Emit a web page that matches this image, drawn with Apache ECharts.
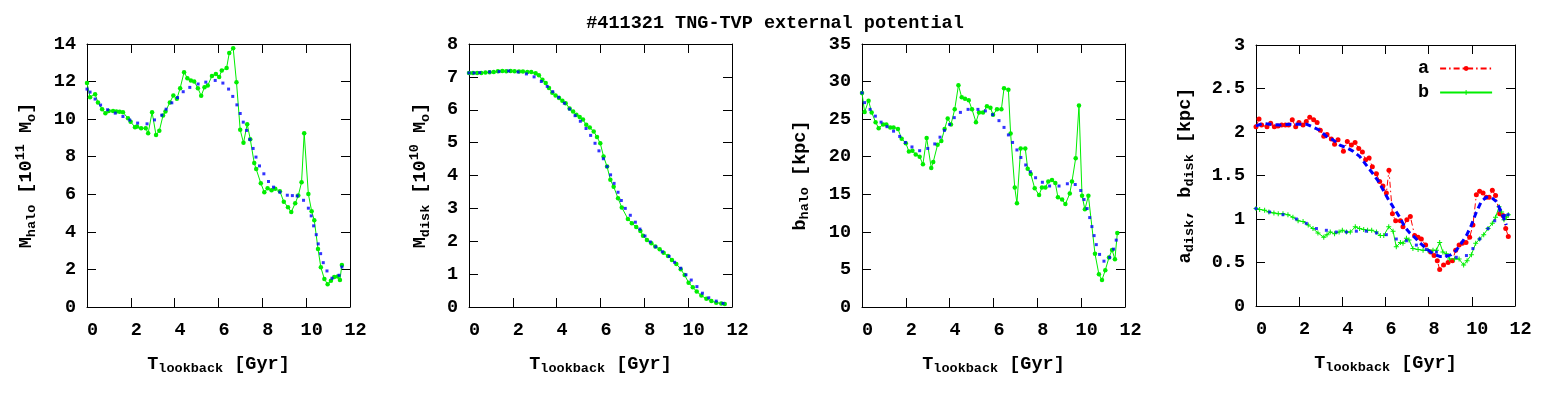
<!DOCTYPE html>
<html><head><meta charset="utf-8">
<script src="https://cdn.jsdelivr.net/npm/echarts@6/dist/echarts.min.js"></script>
<style>html,body{margin:0;padding:0;background:#fff}#c{width:1550px;height:400px}</style>
</head><body><div id="c"></div>
<script>
// ---- Panel 1: M_halo ----
const haloT = [0,0.14,0.37,0.5,0.69,0.84,0.99,1.19,1.34,1.49,1.64,1.87,1.99,2.19,2.28,2.47,2.68,2.79,2.97,3.15,3.3,3.47,3.58,3.78,3.94,4.1,4.25,4.43,4.58,4.74,4.89,5.06,5.21,5.36,5.51,5.7,5.88,6.03,6.15,6.37,6.49,6.67,6.82,6.99,7.14,7.31,7.45,7.63,7.72,7.93,8.09,8.24,8.42,8.59,8.8,8.98,9.17,9.32,9.5,9.64,9.79,9.91,10.1,10.25,10.37,10.54,10.67,10.83,10.98,11.13,11.28,11.44,11.54,11.63];
const haloM = [11.92,11.17,11.33,10.89,10.53,10.32,10.44,10.44,10.41,10.39,10.37,10.05,9.86,9.57,9.61,9.52,9.52,9.25,10.37,9.15,9.38,10.2,10.41,10.89,11.26,11.08,11.65,12.5,12.18,12.06,12.0,11.65,11.24,11.7,11.79,12.3,12.4,12.24,12.59,12.72,13.52,13.78,11.97,9.43,8.74,9.73,8.93,7.66,7.34,6.59,6.11,6.32,6.22,6.29,6.16,5.6,5.31,5.06,5.52,5.93,6.64,9.25,6.02,5.1,4.62,3.09,2.11,1.49,1.21,1.4,1.6,1.62,1.44,2.24];
const haloFitT = [0,0.14,0.37,0.62,0.94,1.29,1.64,1.95,2.31,2.74,3.08,3.41,3.61,3.87,4.13,4.39,4.69,5.07,5.42,5.85,6.2,6.46,6.65,6.84,6.99,7.13,7.28,7.43,7.58,7.71,7.87,8.07,8.28,8.51,8.8,9.14,9.37,9.59,9.88,10.1,10.23,10.34,10.46,10.55,10.66,10.78,10.95,11.18,11.5,11.63];
const haloFitM = [11.6,11.44,11.07,10.75,10.5,10.32,10.14,9.95,9.79,9.75,9.96,10.21,10.53,10.87,11.15,11.46,11.69,11.87,11.97,12.06,11.92,11.6,11.21,10.76,10.3,9.84,9.4,8.92,8.44,7.98,7.51,7.09,6.68,6.38,6.11,5.95,5.93,5.91,5.68,5.26,4.85,4.32,3.85,3.36,2.84,2.36,1.92,1.53,1.69,2.13];

// ---- Panel 2: M_disk ----
const diskT = [0,0.18,0.37,0.56,0.75,0.94,1.13,1.32,1.52,1.7,1.9,2.08,2.28,2.46,2.66,2.84,3.04,3.19,3.35,3.5,3.65,3.8,3.95,4.11,4.26,4.41,4.59,4.75,4.9,5.05,5.2,5.35,5.51,5.69,5.84,5.99,6.14,6.3,6.45,6.6,6.8,6.97,7.25,7.43,7.63,7.82,7.94,8.12,8.32,8.5,8.7,8.88,9.08,9.26,9.46,9.66,9.84,10.02,10.21,10.39,10.6,10.83,11.06,11.28,11.51,11.67];
const diskM = [7.12,7.12,7.12,7.12,7.13,7.14,7.15,7.17,7.18,7.17,7.18,7.17,7.16,7.16,7.15,7.15,7.11,7.05,6.91,6.81,6.66,6.52,6.43,6.36,6.27,6.2,6.04,5.95,5.85,5.78,5.7,5.54,5.46,5.34,5.17,4.98,4.58,4.27,3.87,3.66,3.31,3.03,2.68,2.55,2.43,2.31,2.17,2.04,1.94,1.84,1.76,1.65,1.55,1.43,1.31,1.15,0.97,0.74,0.6,0.47,0.35,0.25,0.18,0.13,0.11,0.09];
const diskFitT = [0,0.23,0.49,0.94,1.37,1.81,2.24,2.62,2.97,3.3,3.57,3.82,4.09,4.35,4.59,4.84,5.08,5.34,5.55,5.75,5.93,6.13,6.3,6.46,6.62,6.8,6.95,7.13,7.36,7.59,7.8,8.03,8.27,8.52,8.82,9.13,9.38,9.66,9.9,10.14,10.4,10.65,10.94,11.28,11.59];
const diskFitM = [7.12,7.12,7.13,7.15,7.16,7.18,7.15,7.09,7.0,6.86,6.71,6.55,6.38,6.2,6.02,5.82,5.65,5.43,5.22,4.98,4.75,4.51,4.27,4.02,3.76,3.49,3.24,3.0,2.79,2.58,2.37,2.16,1.98,1.83,1.68,1.54,1.36,1.18,0.98,0.82,0.62,0.42,0.28,0.18,0.11];

// ---- Panel 3: b_halo ----
const bhaloT = [0,0.12,0.3,0.44,0.62,0.76,0.96,1.11,1.29,1.44,1.64,1.81,2.0,2.14,2.3,2.45,2.63,2.78,2.95,3.16,3.25,3.45,3.62,3.77,3.91,4.06,4.23,4.4,4.55,4.7,4.87,5.02,5.2,5.34,5.52,5.7,5.86,5.98,6.16,6.36,6.48,6.68,6.78,6.97,7.07,7.24,7.45,7.56,7.7,7.88,8.08,8.21,8.37,8.5,8.67,8.82,8.94,9.13,9.28,9.48,9.58,9.75,9.9,10.04,10.17,10.33,10.63,10.81,10.95,11.1,11.27,11.41,11.54,11.65];
const bhaloV = [28.48,25.94,27.45,25.9,24.6,23.8,24.3,24.3,23.9,23.9,23.7,22.4,21.8,20.7,20.8,20.3,20.0,19.0,22.5,18.5,19.3,21.6,22.1,23.7,25.1,24.3,26.3,29.5,27.9,27.7,27.5,26.3,24.6,25.9,25.9,26.7,26.5,25.6,26.3,26.3,29.1,28.9,23.1,15.9,13.8,21.1,21.1,18.4,17.7,15.8,14.9,15.9,15.9,16.7,16.9,16.5,14.6,14.3,13.7,15.1,16.7,19.8,26.8,14.8,13.0,14.8,7.1,4.35,3.6,4.9,6.6,7.6,6.35,9.86];
const bhaloFitT = [0,0.12,0.37,0.61,0.87,1.14,1.44,1.72,1.98,2.28,2.63,3.0,3.32,3.56,3.76,4.0,4.21,4.49,4.84,5.29,5.63,5.96,6.25,6.48,6.68,6.87,7.07,7.25,7.47,7.68,7.92,8.23,8.56,8.99,9.37,9.73,9.98,10.13,10.27,10.39,10.49,10.59,10.69,10.84,11.04,11.3,11.48,11.6];
const bhaloFitV = [28.5,27.2,26.3,25.4,24.6,24.0,23.4,22.7,21.9,21.3,20.8,21.1,21.7,22.6,23.5,24.3,25.2,25.9,26.3,26.3,26.1,25.6,24.8,23.9,22.9,21.9,20.9,19.9,18.9,18.0,17.2,16.6,16.1,16.1,16.4,16.3,15.5,14.3,13.1,11.9,10.7,9.5,8.3,7.0,6.1,6.6,7.7,8.9];

// ---- Panel 4: a_disk, b_disk ----
const aT = [0,0.14,0.26,0.51,0.68,0.85,1.02,1.19,1.36,1.51,1.68,1.84,1.99,2.18,2.33,2.49,2.67,2.83,2.98,3.14,3.29,3.49,3.64,3.8,4.05,4.23,4.42,4.59,4.76,4.93,5.08,5.24,5.39,5.58,5.73,5.88,6.04,6.16,6.32,6.47,6.69,6.81,6.99,7.15,7.35,7.51,7.66,7.86,8.09,8.25,8.4,8.51,8.69,8.9,9.1,9.25,9.41,9.56,9.73,9.9,10.05,10.21,10.36,10.52,10.67,10.8,10.95,11.1,11.29,11.44,11.57,11.69];
const aV = [2.06,2.15,2.08,2.06,2.1,2.06,2.07,2.08,2.08,2.08,2.14,2.06,2.11,2.08,2.12,2.17,2.14,2.11,2.02,1.95,1.97,1.92,1.86,1.91,1.78,1.89,1.85,1.88,1.81,1.77,1.68,1.7,1.6,1.52,1.43,1.38,1.3,1.56,1.06,0.98,0.98,0.91,0.99,1.03,0.81,0.79,0.77,0.7,0.62,0.58,0.52,0.42,0.47,0.5,0.52,0.64,0.7,0.72,0.73,0.79,0.93,1.28,1.32,1.3,1.25,1.25,1.33,1.27,1.06,1.04,0.89,0.8];
const bT = [0,0.17,0.4,0.6,0.83,1.03,1.25,1.48,1.71,1.95,2.18,2.42,2.64,2.87,3.14,3.29,3.44,3.64,3.85,4.0,4.19,4.37,4.6,4.8,4.99,5.17,5.36,5.58,5.76,5.92,6.15,6.35,6.5,6.69,6.81,6.97,7.09,7.27,7.51,7.74,7.97,8.2,8.36,8.51,8.66,8.82,8.97,9.2,9.41,9.62,9.78,9.98,10.18,10.36,10.55,10.75,10.95,11.1,11.26,11.38,11.49,11.6,11.69];
const bV = [1.12,1.11,1.1,1.08,1.07,1.06,1.06,1.05,1.02,0.98,0.97,0.93,0.89,0.84,0.79,0.82,0.85,0.83,0.85,0.87,0.85,0.85,0.91,0.89,0.88,0.87,0.87,0.85,0.81,0.81,0.91,0.86,0.68,0.73,0.72,0.78,0.76,0.66,0.65,0.64,0.64,0.64,0.64,0.73,0.62,0.6,0.54,0.54,0.54,0.47,0.52,0.59,0.72,0.77,0.82,0.89,0.95,1.02,1.14,1.08,0.99,1.02,1.05];
const aFitT = [0,0.32,0.63,1.1,1.56,2.02,2.33,2.61,2.95,3.26,3.57,3.88,4.19,4.49,4.8,5.11,5.42,5.65,5.88,6.12,6.35,6.66,6.89,7.12,7.35,7.58,7.89,8.2,8.51,8.82,9.05,9.28,9.51,9.75,9.98,10.21,10.44,10.67,10.9,11.14,11.37,11.6];
const aFitV = [2.07,2.1,2.09,2.08,2.09,2.09,2.09,2.06,2.02,1.95,1.91,1.85,1.82,1.78,1.72,1.62,1.52,1.44,1.34,1.23,1.14,1.02,0.91,0.84,0.79,0.73,0.66,0.6,0.57,0.57,0.59,0.64,0.72,0.81,0.93,1.08,1.2,1.25,1.25,1.2,1.08,0.93];
const bFitT = [0,0.63,1.25,1.87,2.33,2.8,3.26,3.72,4.19,4.65,5.11,5.58,6.04,6.5,6.97,7.43,7.89,8.36,8.82,9.28,9.75,10.05,10.36,10.75,11.06,11.29,11.52,11.68];
const bFitV = [1.12,1.08,1.05,1.0,0.95,0.89,0.87,0.85,0.85,0.86,0.86,0.84,0.82,0.77,0.75,0.7,0.65,0.62,0.58,0.56,0.58,0.66,0.77,0.89,0.98,1.1,1.04,1.05];

// ---- Axis ranges / labels ----
const xMin = 0, xMax = 12, xStep = 2;
const yRanges = [[0, 14, 2], [0, 8, 1], [0, 35, 5], [0, 3, 0.5]];
const titleText = '#411321 TNG-TVP external potential';
const legendNames = ['a', 'b'];

const FONT = 'Liberation Mono';
const FS = 18.5, FSS = 13.5;
const GREEN = '#00ee00', BLUE = '#0000ff', RED = '#ff0000';
const zip = (t, v) => t.map((x, i) => [x, v[i]]);

const rich = {
  n: {fontFamily: FONT, fontWeight: 'bold', fontSize: FS, color: '#000'},
  sub: {fontFamily: FONT, fontWeight: 'bold', fontSize: FSS, color: '#000', padding: [10, 0, 0, 0]},
  sup: {fontFamily: FONT, fontWeight: 'bold', fontSize: FSS, color: '#000', padding: [0, 0, 11, 0]}
};
const xName = '{n|T}{sub|lookback}{n| [Gyr]}';
const yNames = [
  '{n|M}{sub|halo}{n| [10}{sup|11}{n| M}{sub|o}{n|]}',
  '{n|M}{sub|disk}{n| [10}{sup|10}{n| M}{sub|o}{n|]}',
  '{n|b}{sub|halo}{n| [kpc]}',
  '{n|a}{sub|disk}{n|, b}{sub|disk}{n| [kpc]}'
];
const yNameGaps = [48, 36, 50, 59];

const grids = [
  {left: 87, top: 44, width: 263, height: 263},
  {left: 469, top: 44, width: 263, height: 263},
  {left: 862, top: 44, width: 263, height: 263},
  {left: 1256, top: 45, width: 259, height: 261}
].map(g => Object.assign({outerBoundsMode: 'none', containLabel: false}, g));

const lineBlack = {show: true, onZero: false, lineStyle: {color: '#000', width: 1}};
const tickIn = {show: true, inside: true, length: 9, lineStyle: {color: '#000', width: 1}};
const lab = {fontFamily: FONT, fontWeight: 'bold', fontSize: FS, color: '#000'};

const xAxis = [], yAxis = [];
grids.forEach((g, i) => {
  xAxis.push({type: 'value', gridIndex: i, min: xMin, max: xMax, interval: xStep, position: 'bottom',
    axisLine: lineBlack, axisTick: tickIn, splitLine: {show: false},
    axisLabel: Object.assign({margin: 14, padding: [0, 0, 0, 11]}, lab),
    name: xName, nameLocation: 'middle', nameGap: 45, nameMoveOverlap: false,
    nameTextStyle: {rich: rich}});
  xAxis.push({type: 'value', gridIndex: i, min: xMin, max: xMax, interval: xStep, position: 'top',
    axisLine: lineBlack, axisTick: tickIn, splitLine: {show: false}, axisLabel: {show: false}});
  const r = yRanges[i];
  yAxis.push({type: 'value', gridIndex: i, min: r[0], max: r[1], interval: r[2], position: 'left',
    axisLine: lineBlack, axisTick: tickIn, splitLine: {show: false},
    axisLabel: Object.assign({margin: 11, padding: [3, 0, 0, 0]}, lab),
    name: yNames[i], nameLocation: 'middle', nameRotate: 90, nameGap: yNameGaps[i], nameMoveOverlap: false,
    nameTextStyle: {rich: rich}});
  yAxis.push({type: 'value', gridIndex: i, min: r[0], max: r[1], interval: r[2], position: 'right',
    axisLine: lineBlack, axisTick: tickIn, splitLine: {show: false}, axisLabel: {show: false}});
});

const greenLine = (i, data) => ({type: 'line', xAxisIndex: 2 * i, yAxisIndex: 2 * i, data: data,
  symbol: 'circle', symbolSize: 4.5, showSymbol: true, color: GREEN,
  lineStyle: {color: GREEN, width: 1}, itemStyle: {color: GREEN}, z: 3});
const blueDots = (i, data, size) => ({type: 'scatter', xAxisIndex: 2 * i, yAxisIndex: 2 * i, data: data,
  symbol: 'rect', symbolSize: size || 3, itemStyle: {color: BLUE}, z: 4});

const plus = 'path://M4,0H6V4H10V6H6V10H4V6H0V4H4Z';

const series = [
  greenLine(0, zip(haloT, haloM)),
  blueDots(0, zip(haloFitT, haloFitM)),
  greenLine(1, zip(diskT, diskM)),
  blueDots(1, zip(diskFitT, diskFitM)),
  greenLine(2, zip(bhaloT, bhaloV)),
  blueDots(2, zip(bhaloFitT, bhaloFitV)),
  {name: legendNames[0], type: 'line', xAxisIndex: 6, yAxisIndex: 6, data: zip(aT, aV),
    symbol: 'circle', symbolSize: 5, color: RED,
    lineStyle: {color: RED, width: 1, type: [6, 3, 1.5, 3]}, itemStyle: {color: RED}, z: 3},
  {name: legendNames[1], type: 'line', xAxisIndex: 6, yAxisIndex: 6, data: zip(bT, bV),
    symbol: plus, symbolSize: 5, color: GREEN,
    lineStyle: {color: GREEN, width: 1}, itemStyle: {color: GREEN}, z: 3},
  {type: 'line', xAxisIndex: 6, yAxisIndex: 6, data: zip(aFitT, aFitV), showSymbol: false, symbol: 'none',
    lineStyle: {color: BLUE, width: 3, type: [6, 4]}, z: 4},
  blueDots(3, zip(bFitT, bFitV), 3)
];

const chart = echarts.init(document.getElementById('c'), null, {renderer: 'canvas'});
chart.setOption({
  animation: false,
  backgroundColor: '#fff',
  title: {text: titleText, left: 'center', top: 9,
    textStyle: {fontFamily: FONT, fontWeight: 'bold', fontSize: FS, color: '#000'}},
  legend: {data: legendNames, orient: 'vertical', left: 1413, top: 54, align: 'right',
    itemWidth: 52, itemHeight: 6, itemGap: 5, selectedMode: false,
    textStyle: {fontFamily: FONT, fontWeight: 'bold', fontSize: FS, color: '#000', padding: [0, 6, 0, 0]}},
  grid: grids,
  xAxis: xAxis,
  yAxis: yAxis,
  series: series
});
</script>
</body></html>
